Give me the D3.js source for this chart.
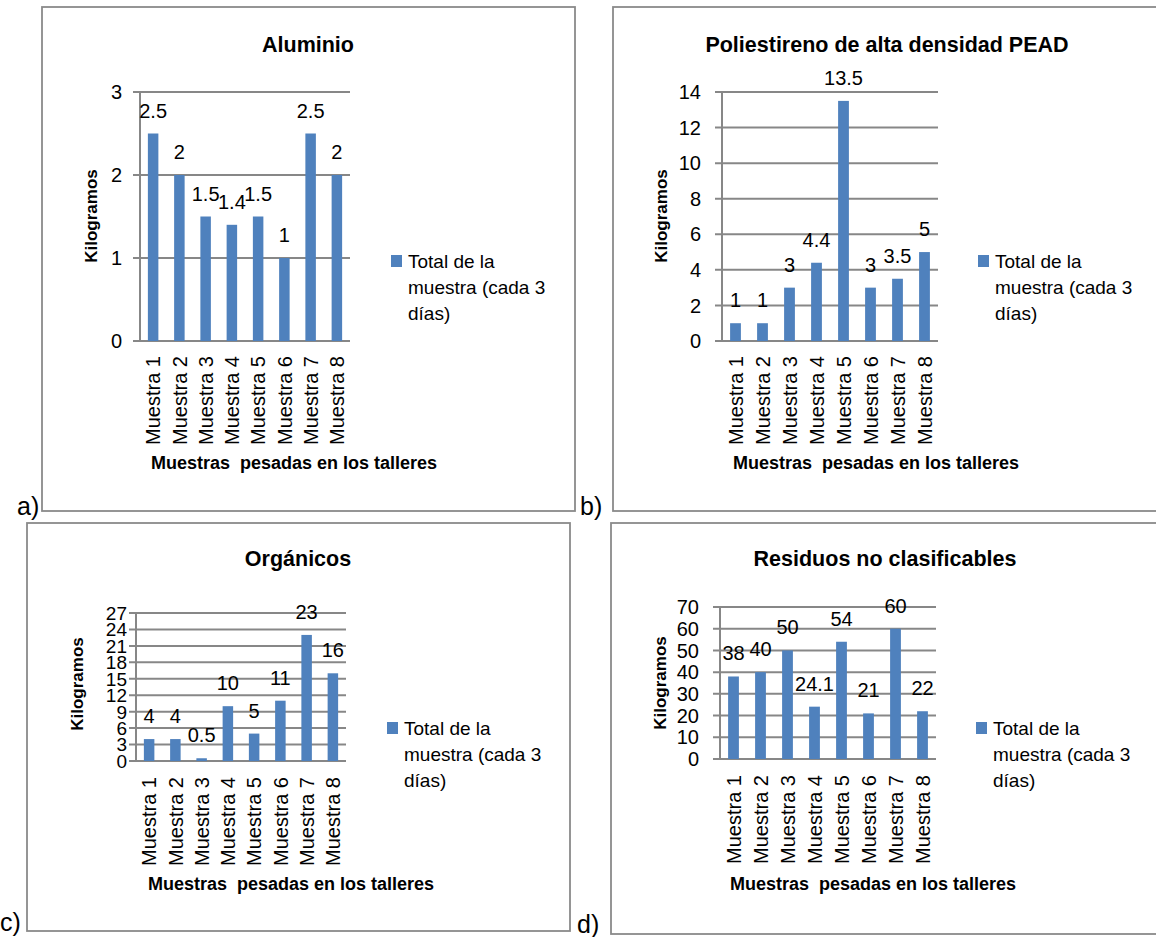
<!DOCTYPE html>
<html>
<head>
<meta charset="utf-8">
<script src="https://cdn.jsdelivr.net/npm/d3@7"></script>
<style>
  html, body { margin: 0; padding: 0; background: #ffffff; }
  svg { display: block; }
  text { font-family: "Liberation Sans", Arial, sans-serif; fill: #000; }
</style>
</head>
<body>
<svg id="chart" width="1156" height="937"></svg>
<script>
// ---------------- DATA ----------------
const categories = ["Muestra 1", "Muestra 2", "Muestra 3", "Muestra 4", "Muestra 5", "Muestra 6", "Muestra 7", "Muestra 8"];
const seriesName = ["Total de la", "muestra (cada 3", "días)"];
const yAxisTitle = "Kilogramos";
const xAxisTitle = "Muestras  pesadas en los talleres";

const aluminioValues  = [2.5, 2, 1.5, 1.4, 1.5, 1, 2.5, 2];
const peadValues      = [1, 1, 3, 4.4, 13.5, 3, 3.5, 5];
const organicosValues = [4, 4, 0.5, 10, 5, 11, 23, 16];
const residuosValues  = [38, 40, 50, 24.1, 54, 21, 60, 22];

const aluminioTicks  = [0, 1, 2, 3];
const peadTicks      = [0, 2, 4, 6, 8, 10, 12, 14];
const organicosTicks = [0, 3, 6, 9, 12, 15, 18, 21, 24, 27];
const residuosTicks  = [0, 10, 20, 30, 40, 50, 60, 70];

const panelTitles = ["Aluminio", "Poliestireno de alta densidad PEAD", "Orgánicos", "Residuos no clasificables"];
const panelLetters = ["a)", "b)", "c)", "d)"];

// ---------------- LAYOUT ----------------
const panels = [
  { values: aluminioValues, ticks: aluminioTicks, title: panelTitles[0], letter: panelLetters[0],
    frame: [42, 7, 575, 511], plot: [140, 350, 92, 341], tickGap: 18, tickFont: 20,
    titleXY: [308, 52], xTitleXY: [294, 469], yTitleXY: [97, 216], legendXY: [391, 255],
    letterXY: [17, 515], labelTop: 356 },
  { values: peadValues, ticks: peadTicks, title: panelTitles[1], letter: panelLetters[1],
    frame: [613, 7, 1162, 511], plot: [722, 938, 92, 341], tickGap: 21, tickFont: 20,
    titleXY: [887, 52], xTitleXY: [876, 469], yTitleXY: [667, 216], legendXY: [978, 255],
    letterXY: [580, 515], labelTop: 356 },
  { values: organicosValues, ticks: organicosTicks, title: panelTitles[2], letter: panelLetters[2],
    frame: [27, 523, 570, 931], plot: [136, 346, 613, 761], tickGap: 9, tickFont: 19,
    titleXY: [298, 566], xTitleXY: [291, 890], yTitleXY: [83, 684], legendXY: [387, 722],
    letterXY: [0, 931], labelTop: 777 },
  { values: residuosValues, ticks: residuosTicks, title: panelTitles[3], letter: panelLetters[3],
    frame: [611, 523, 1162, 934], plot: [720, 936, 607, 759], tickGap: 21, tickFont: 20,
    titleXY: [885, 566], xTitleXY: [873, 890], yTitleXY: [666, 683], legendXY: [976, 722],
    letterXY: [577, 933], labelTop: 775 }
];

const barColor = "#4F81BD";
const gridColor = "#878787";
const svg = d3.select("#chart");

panels.forEach(p => {
  const g = svg.append("g");
  const [fx0, fy0, fx1, fy1] = p.frame;
  g.append("rect")
    .attr("x", fx0).attr("y", fy0)
    .attr("width", fx1 - fx0).attr("height", fy1 - fy0)
    .attr("fill", "none").attr("stroke", "#8a8a8a").attr("stroke-width", 1.8);

  g.append("text")
    .attr("x", p.letterXY[0]).attr("y", p.letterXY[1])
    .attr("font-size", 25).text(p.letter);

  const [px0, px1, pyTop, pyBot] = p.plot;
  const x = d3.scaleBand().domain(categories).range([px0, px1]).paddingInner(0.6).paddingOuter(0.3);
  const y = d3.scaleLinear().domain([0, d3.max(p.ticks)]).range([pyBot, pyTop]);

  // gridlines
  g.selectAll("line.grid").data(p.ticks).enter().append("line")
    .attr("x1", px0 - 7).attr("x2", px1)
    .attr("y1", d => y(d)).attr("y2", d => y(d))
    .attr("stroke", gridColor).attr("stroke-width", 2);
  // vertical axis line
  g.append("line")
    .attr("x1", px0).attr("x2", px0)
    .attr("y1", y(d3.max(p.ticks))).attr("y2", y(0))
    .attr("stroke", gridColor).attr("stroke-width", 2);

  // y tick labels
  g.selectAll("text.ytick").data(p.ticks).enter().append("text")
    .attr("x", px0 - p.tickGap).attr("y", d => y(d)).attr("dy", "0.36em")
    .attr("text-anchor", "end").attr("font-size", p.tickFont).text(d => d);

  // bars
  g.selectAll("rect.bar").data(p.values).enter().append("rect")
    .attr("x", (d, i) => x(categories[i]))
    .attr("width", x.bandwidth())
    .attr("y", d => y(d)).attr("height", d => y(0) - y(d))
    .attr("fill", barColor);

  // data labels
  g.selectAll("text.val").data(p.values).enter().append("text")
    .attr("x", (d, i) => x(categories[i]) + x.bandwidth() / 2)
    .attr("y", d => y(d) - 16)
    .attr("text-anchor", "middle").attr("font-size", 20)
    .text(d => String(d));

  // x category labels (rotated)
  g.selectAll("text.xcat").data(categories).enter().append("text")
    .attr("transform", d => `translate(${x(d) + x.bandwidth() / 2},${p.labelTop}) rotate(-90)`)
    .attr("dy", "0.36em").attr("text-anchor", "end").attr("font-size", 20)
    .text(d => d);

  // titles
  g.append("text").attr("x", p.titleXY[0]).attr("y", p.titleXY[1])
    .attr("text-anchor", "middle").attr("font-size", 21.5).attr("font-weight", "bold")
    .text(p.title);
  g.append("text").attr("x", p.xTitleXY[0]).attr("y", p.xTitleXY[1])
    .attr("text-anchor", "middle").attr("font-size", 18).attr("font-weight", "bold")
    .attr("xml:space", "preserve").style("white-space", "pre")
    .text(xAxisTitle);
  g.append("text")
    .attr("transform", `translate(${p.yTitleXY[0]},${p.yTitleXY[1]}) rotate(-90)`)
    .attr("text-anchor", "middle").attr("font-size", 17).attr("font-weight", "bold")
    .text(yAxisTitle);

  // legend
  const [lx, ly] = p.legendXY;
  g.append("rect").attr("x", lx).attr("y", ly).attr("width", 11).attr("height", 12).attr("fill", barColor);
  g.selectAll("text.leg").data(seriesName).enter().append("text")
    .attr("x", lx + 17).attr("y", (d, i) => ly + 13 + i * 26)
    .attr("font-size", 19).text(d => d);
});
</script>
</body>
</html>
